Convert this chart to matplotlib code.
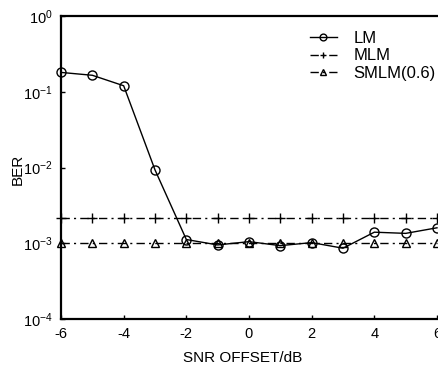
import matplotlib
matplotlib.use("Agg")
import matplotlib.pyplot as plt

plt.rcParams['font.family'] = ['Liberation Sans', 'DejaVu Sans']
plt.rcParams['mathtext.fontset'] = 'custom'
plt.rcParams['mathtext.rm'] = 'Liberation Sans'
plt.rcParams['mathtext.it'] = 'Liberation Sans'

snr = [-6, -5, -4, -3, -2, -1, 0, 1, 2, 3, 4, 5, 6]
ber_lm = [0.18, 0.165, 0.12, 0.0093, 1.12e-3, 0.95e-3, 1.05e-3, 0.93e-3, 1.02e-3, 0.86e-3, 1.4e-3, 1.35e-3, 1.6e-3]
ber_mlm = [2.15e-3] * 13
ber_smlm = [1.0e-3] * 13
xticks = [-6, -4, -2, 0, 2, 4, 6]
yticks = [1e-4, 1e-3, 1e-2, 1e-1, 1e0]
ytick_labels = ['$10^{-4}$', '$10^{-3}$', '$10^{-2}$', '$10^{-1}$', '$10^{0}$']

fig = plt.figure(figsize=(4.39, 3.68), dpi=100)
ax = fig.add_axes([61/439, 1-319/368, 376/439, 303/368])

dd = (0, (6, 3, 1.5, 3))
ax.plot(snr, ber_lm, '-', color='black', lw=1.0, marker='o', ms=6.5,
        mfc='none', mec='black', mew=1.0, label='LM', clip_on=False)
ax.plot(snr, ber_mlm, linestyle=dd, color='black', lw=1.0,
        marker='+', ms=6.5, mew=1.0, label='MLM', clip_on=False)
ax.plot(snr, ber_smlm, linestyle=dd, color='black', lw=1.0,
        marker='^', ms=5.5, mfc='none', mec='black', mew=1.0, label='SMLM(0.6)', clip_on=False)

ax.set_yscale('log')
ax.set_xlim(-6, 6)
ax.set_ylim(1e-4, 1e0)
ax.set_xticks(xticks)
ax.set_xticklabels([str(v) for v in xticks])
ax.set_yticks(yticks)
ax.set_yticklabels(ytick_labels)
ax.minorticks_off()
ax.tick_params(direction='in', length=3, width=1, labelsize=10.5)
ax.tick_params(axis='x', pad=6)
ax.tick_params(axis='y', pad=6)
for s in ['left', 'bottom', 'top']:
    ax.spines[s].set_linewidth(1.6)
ax.spines['right'].set_visible(False)

ax.set_xlabel('SNR OFFSET/dB', fontsize=11)
ax.xaxis.set_label_coords((243 - 61) / 376, (319 - 358) / 303)
ax.xaxis.label.set_va('center')
ax.set_ylabel('BER', fontsize=11)
ax.yaxis.set_label_coords((18 - 61) / 376, (319 - 169) / 303)
ax.yaxis.label.set_va('center')

ax.legend(loc='upper left', bbox_to_anchor=(310 / 439, 1 - 31 / 368),
          bbox_transform=fig.transFigure, frameon=False, fontsize=12,
          handlelength=1.6, labelspacing=0.15, handletextpad=1.0,
          borderpad=0, borderaxespad=0, markerscale=0.75)

fig.savefig('out.png', dpi=100)
